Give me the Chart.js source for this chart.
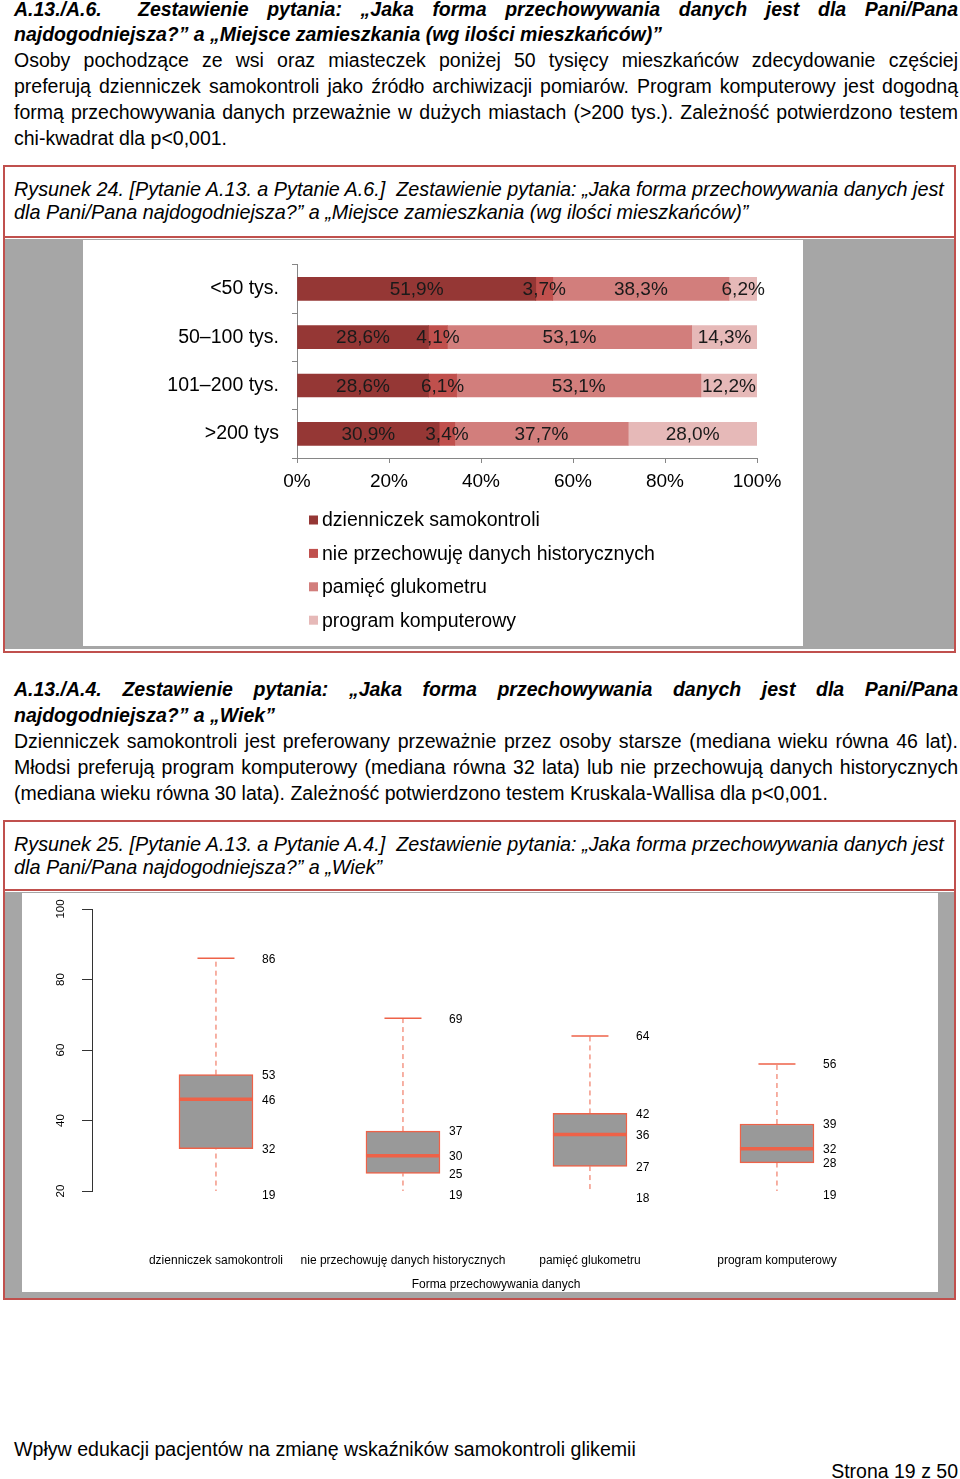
<!DOCTYPE html>
<html><head><meta charset="utf-8">
<script src="https://cdn.jsdelivr.net/npm/chart.js@4.4.1/dist/chart.umd.min.js"></script>
<style>
html,body{margin:0;padding:0}
body{width:960px;height:1479px;position:relative;background:#fff;overflow:hidden;font-family:"Liberation Sans",Arial,sans-serif;color:#000}
.t{position:absolute;left:14px;width:944px;font-size:19.5px;line-height:26px;white-space:nowrap}
.j{text-align:justify;text-align-last:justify;white-space:normal;height:26px;overflow:visible}
.h{font-weight:bold;font-style:italic}
.cap{position:absolute;left:14px;font-style:italic;font-size:19.8px;line-height:23px;white-space:nowrap}
.frame{position:absolute;left:3px;width:953px;box-sizing:border-box;border:2px solid #c0504d}
.sep{position:absolute;left:5px;width:949px;height:2px;background:#c0504d}
.gray{position:absolute;left:5px;width:949px;background:#a6a6a6}
canvas{position:absolute;display:block;background:#fff}
</style></head>
<body>
<div class="t h j" style="top:-4px"><span style="display:inline-block;width:124px;text-align:left;text-align-last:left">A.13./A.6.</span>Zestawienie pytania: „Jaka forma przechowywania danych jest dla Pani/Pana</div>
<div class="t h" style="top:21px">najdogodniejsza?” a „Miejsce zamieszkania (wg ilości mieszkańców)”</div>
<div class="t j" style="top:47px">Osoby pochodzące ze wsi oraz miasteczek poniżej 50 tysięcy mieszkańców zdecydowanie częściej</div>
<div class="t j" style="top:73px">preferują dzienniczek samokontroli jako źródło archiwizacji pomiarów. Program komputerowy jest dogodną</div>
<div class="t j" style="top:99px">formą przechowywania danych przeważnie w dużych miastach (&gt;200 tys.). Zależność potwierdzono testem</div>
<div class="t" style="top:125px">chi-kwadrat dla p&lt;0,001.</div>

<div class="frame" style="top:165px;height:488px"></div>
<div class="cap" style="top:178px">Rysunek 24. [Pytanie A.13. a Pytanie A.6.]&nbsp; Zestawienie pytania: „Jaka forma przechowywania danych jest</div>
<div class="cap" style="top:201px">dla Pani/Pana najdogodniejsza?” a „Miejsce zamieszkania (wg ilości mieszkańców)”</div>
<div class="sep" style="top:236px"></div>
<div class="gray" style="top:239px;height:410px"></div>
<canvas id="c1" width="720" height="406" style="left:83px;top:240px;width:720px;height:406px"></canvas>

<div class="t h j" style="top:676px">A.13./A.4. Zestawienie pytania: „Jaka forma przechowywania danych jest dla Pani/Pana</div>
<div class="t h" style="top:702px">najdogodniejsza?” a „Wiek”</div>
<div class="t j" style="top:728px">Dzienniczek samokontroli jest preferowany przeważnie przez osoby starsze (mediana wieku równa 46 lat).</div>
<div class="t j" style="top:754px">Młodsi preferują program komputerowy (mediana równa 32 lata) lub nie przechowują danych historycznych</div>
<div class="t" style="top:780px">(mediana wieku równa 30 lata). Zależność potwierdzono testem Kruskala-Wallisa dla p&lt;0,001.</div>

<div class="frame" style="top:820px;height:480px"></div>
<div class="cap" style="top:833px">Rysunek 25. [Pytanie A.13. a Pytanie A.4.]&nbsp; Zestawienie pytania: „Jaka forma przechowywania danych jest</div>
<div class="cap" style="top:856px">dla Pani/Pana najdogodniejsza?” a „Wiek”</div>
<div class="sep" style="top:889px"></div>
<div class="gray" style="top:892px;height:406px"></div>
<canvas id="c2" width="916" height="399" style="left:22px;top:893px;width:916px;height:399px"></canvas>

<div class="t" style="top:1436px;font-size:19.6px">Wpływ edukacji pacjentów na zmianę wskaźników samokontroli glikemii</div>
<div class="t" style="top:1458px;text-align:right;left:14px;width:944px">Strona 19 z 50</div>

<script>
// ---------- Figure 24 data ----------
const categories = ['<50 tys.', '50–100 tys.', '101–200 tys.', '>200 tys'];
const seriesNames = ['dzienniczek samokontroli', 'nie przechowuję danych historycznych', 'pamięć glukometru', 'program komputerowy'];
const dzienniczek = [51.9, 28.6, 28.6, 30.9];
const niePrzechowuje = [3.7, 4.1, 6.1, 3.4];
const pamiecGlukometru = [38.3, 53.1, 53.1, 37.7];
const programKomputerowy = [6.2, 14.3, 12.2, 28.0];
const percentTicks = [0, 20, 40, 60, 80, 100];

// ---------- Figure 25 data ----------
const boxCategories = ['dzienniczek samokontroli', 'nie przechowuję danych historycznych', 'pamięć glukometru', 'program komputerowy'];
const boxMin = [19, 19, 18, 19];
const boxQ1 = [32, 25, 27, 28];
const boxMedian = [46, 30, 36, 32];
const boxQ3 = [53, 37, 42, 39];
const boxMax = [86, 69, 64, 56];
const ageTicks = [20, 40, 60, 80, 100];
const boxAxisTitle = 'Forma przechowywania danych';

const barColors = ['#953735', '#c0504d', '#d27e7c', '#e6b9b8'];
const FONT = '"Liberation Sans", Arial, sans-serif';
const fmt = v => v.toFixed(1).replace('.', ',') + '%';

// ---------- Chart 1 ----------
const seriesValues = [dzienniczek, niePrzechowuje, pamiecGlukometru, programKomputerowy];
const barLabelPlugin = {
  id: 'barLabels',
  afterDatasetsDraw(chart) {
    const ctx = chart.ctx;
    ctx.save();
    ctx.font = '19px ' + FONT;
    ctx.fillStyle = '#1a1a1a';
    ctx.textAlign = 'center';
    ctx.textBaseline = 'middle';
    chart.data.datasets.forEach((ds, di) => {
      chart.getDatasetMeta(di).data.forEach((el, i) => {
        ctx.fillText(fmt(ds.data[i]), (el.x + el.base) / 2, el.y + 1);
      });
    });
    ctx.restore();
  }
};
const legendPlugin = {
  id: 'vLegend',
  afterDraw(chart) {
    const ctx = chart.ctx;
    const x0 = chart.chartArea.left + 12;
    const y0 = chart.chartArea.bottom + 62;
    ctx.save();
    ctx.font = '19.5px ' + FONT;
    ctx.textBaseline = 'middle';
    ctx.textAlign = 'left';
    chart.data.datasets.forEach((ds, i) => {
      const y = y0 + i * 33.4;
      ctx.fillStyle = ds.backgroundColor;
      ctx.fillRect(x0, y - 4.5, 9, 9);
      ctx.fillStyle = '#000';
      ctx.fillText(ds.label, x0 + 13, y + 1);
    });
    ctx.restore();
  }
};

new Chart(document.getElementById('c1'), {
  type: 'bar',
  data: {
    labels: categories,
    datasets: seriesNames.map((name, i) => ({
      label: name,
      data: seriesValues[i],
      backgroundColor: barColors[i],
      borderWidth: 0,
      barThickness: 23
    }))
  },
  options: {
    indexAxis: 'y',
    responsive: false,
    animation: false,
    events: [],
    layout: { autoPadding: false, padding: { left: 0, top: 22, right: 46, bottom: 148 } },
    plugins: { legend: { display: false }, tooltip: { enabled: false } },
    scales: {
      x: {
        stacked: true, min: 0, max: 100,
        afterBuildTicks: s => { s.ticks = percentTicks.map(v => ({ value: v })); },
        ticks: { callback: v => v + '%', font: { size: 19, family: FONT }, color: '#000', padding: 7 },
        grid: { drawOnChartArea: false, tickLength: 5, color: '#868686' },
        border: { color: '#868686' },
        afterFit: s => { s.height = 40; }
      },
      y: {
        stacked: true,
        ticks: { font: { size: 19.5, family: FONT }, color: '#000', padding: 13 },
        grid: { drawOnChartArea: false, tickLength: 5, color: '#868686', offset: true },
        border: { color: '#868686' },
        afterFit: s => { s.width = 214; }
      }
    }
  },
  plugins: [barLabelPlugin, legendPlugin]
});

// ---------- Chart 2 (box plot) ----------
const boxRed = '#ee6248';
const valueLabelPlugin = {
  id: 'boxValues',
  afterDraw(chart) {
    const ctx = chart.ctx, xs = chart.scales.x, ys = chart.scales.y;
    ctx.save();
    ctx.fillStyle = '#000';
    ctx.font = '12px ' + FONT;
    ctx.textAlign = 'left';
    ctx.textBaseline = 'middle';
    boxCategories.forEach((c, i) => {
      const x = xs.getPixelForValue(i + 1) + 46;
      [boxMin[i], boxQ1[i], boxMedian[i], boxQ3[i], boxMax[i]].forEach(v => {
        ctx.fillText(String(v), x, ys.getPixelForValue(v) + 1);
      });
    });
    // rotated y tick labels (R style)
    ctx.font = '11.5px ' + FONT;
    ctx.textAlign = 'center';
    ageTicks.forEach(v => {
      ctx.save();
      ctx.translate(ys.left + 39, ys.getPixelForValue(v));
      ctx.rotate(-Math.PI / 2);
      ctx.fillText(String(v), 0, 0);
      ctx.restore();
    });
    ctx.restore();
  }
};

const whiskerSets = [];
boxCategories.forEach((c, i) => {
  whiskerSets.push({ type: 'line', data: [{ x: i + 1, y: boxQ3[i] }, { x: i + 1, y: boxMax[i] }],
    borderColor: boxRed, borderWidth: 1, borderDash: [5, 4], pointRadius: 0, order: 3 });
  whiskerSets.push({ type: 'line', data: [{ x: i + 1, y: boxMin[i] }, { x: i + 1, y: boxQ1[i] }],
    borderColor: boxRed, borderWidth: 1, borderDash: [5, 4], pointRadius: 0, order: 3 });
});

new Chart(document.getElementById('c2'), {
  type: 'bar',
  data: {
    datasets: [
      ...whiskerSets,
      { type: 'bar', label: 'box', data: boxCategories.map((c, i) => ({ x: i + 1, y: [boxQ1[i], boxQ3[i]] })),
        backgroundColor: '#999999', borderColor: boxRed, borderWidth: 1.5, borderSkipped: false, barThickness: 74, order: 2 },
      { type: 'scatter', label: 'median', data: boxCategories.map((c, i) => ({ x: i + 1, y: boxMedian[i] })),
        pointStyle: 'line', pointRadius: 37, borderColor: boxRed, pointBorderWidth: 3.5, borderWidth: 3.5, order: 1 },
      { type: 'scatter', label: 'caps', data: boxCategories.flatMap((c, i) => [{ x: i + 1, y: boxMin[i] }, { x: i + 1, y: boxMax[i] }]),
        pointStyle: 'line', pointRadius: 18.5, borderColor: boxRed, pointBorderWidth: 1.5, borderWidth: 1.5, order: 1 }
    ]
  },
  options: {
    responsive: false,
    animation: false,
    events: [],
    layout: { autoPadding: false, padding: { left: 0, top: 16, right: 38, bottom: 0 } },
    plugins: { legend: { display: false }, tooltip: { enabled: false } },
    scales: {
      x: {
        type: 'linear', min: 0.337, max: 4.658, offset: false,
        afterBuildTicks: s => { s.ticks = boxCategories.map((c, i) => ({ value: i + 1 })); },
        ticks: { callback: v => boxCategories[v - 1] || '', font: { size: 12, family: FONT }, color: '#000', padding: 62, maxRotation: 0, autoSkip: false },
        grid: { display: false, drawTicks: false, offset: false },
        border: { display: false },
        title: { display: true, text: boxAxisTitle, font: { size: 12, family: FONT }, color: '#000', padding: { top: 0, bottom: 0 } },
        afterFit: s => { s.height = 101; }
      },
      y: {
        min: 20, max: 100,
        afterBuildTicks: s => { s.ticks = ageTicks.map(v => ({ value: v })); },
        ticks: { display: false },
        grid: { drawOnChartArea: false, tickLength: 10, color: '#333' },
        border: { color: '#333' },
        afterFit: s => { s.width = 70; }
      }
    }
  },
  plugins: [valueLabelPlugin]
});
</script>
</body></html>
